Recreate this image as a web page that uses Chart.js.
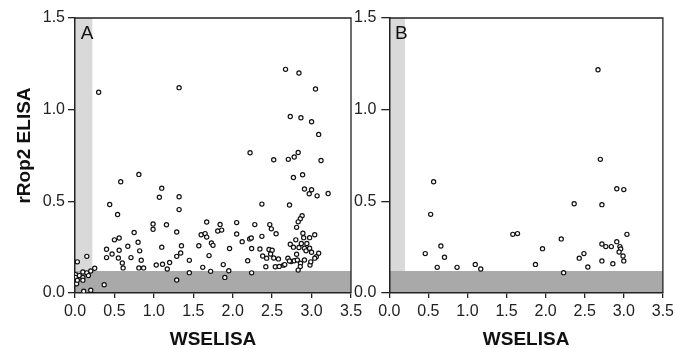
<!DOCTYPE html>
<html><head><meta charset="utf-8">
<script src="https://cdn.jsdelivr.net/npm/chart.js@4.4.0/dist/chart.umd.min.js"></script>
<style>
html,body{margin:0;padding:0;background:#fff;}
body{width:678px;height:348px;position:relative;overflow:hidden;}
.box{position:absolute;top:0;height:348px;}
#boxA{left:0;width:372px;}
#boxB{left:340px;width:338px;}
canvas{display:block;}
</style></head><body>
<div class="box" id="boxA"><canvas id="chartA" width="372" height="348"></canvas></div>
<div class="box" id="boxB"><canvas id="chartB" width="338" height="348"></canvas></div>
<script>
// ---- data ----
const panelAx = [
  0.01,0.01,0.02,0.03,0.055,0.10,0.10,0.10,0.15,0.17,0.20,0.25,0.03,0.15,0.11,0.20,0.37,0.30,
  0.44,0.54,0.58,0.81,1.07,1.10,0.99,1.16,0.99,0.75,0.50,0.56,0.80,0.67,0.40,0.56,0.82,1.10,0.47,0.40,0.55,0.71,0.60,0.84,0.61,0.81,0.87,1.03,1.11,1.17,1.20,
  1.32,1.32,1.32,1.29,1.35,1.29,1.34,1.29,1.45,1.45,1.57,1.60,1.65,1.67,1.67,1.62,1.70,1.72,1.73,1.75,1.81,1.84,1.86,1.88,1.90,1.95,1.96,2.05,2.05,2.12,2.19,2.215,2.235,2.24,2.24,2.28,2.22,
  2.345,2.37,2.37,2.38,2.42,2.43,2.47,2.49,2.46,2.50,2.48,2.52,2.55,2.54,2.58,2.59,2.645,2.52,2.67,2.84,3.05,2.73,2.865,3.00,3.09,2.705,2.78,2.83,3.12,2.77,2.886,2.91,3.00,2.97,3.07,3.21,2.72,
  2.88,2.857,2.83,2.81,2.89,2.90,3.04,2.975,2.80,2.73,2.77,2.87,2.84,2.91,2.93,2.975,3.00,3.09,3.06,3.04,2.70,2.74,2.78,2.82,2.86,2.91,2.98,2.66,2.857,2.83,2.72,2.81,2.99,2.94
];
const panelAy = [
  0.10,0.085,0.05,0.07,0.095,0.115,0.085,0.07,0.11,0.095,0.12,0.135,0.17,0.20,0.01,0.015,0.045,1.095,
  0.483,0.428,0.607,0.647,0.522,0.572,0.377,0.372,0.348,0.33,0.29,0.30,0.277,0.255,0.239,0.233,0.23,0.25,0.213,0.193,0.191,0.193,0.164,0.179,0.137,0.137,0.137,0.153,0.157,0.131,0.166,
  1.12,0.525,0.455,0.333,0.258,0.20,0.218,0.071,0.178,0.111,0.258,0.318,0.324,0.305,0.387,0.14,0.204,0.118,0.273,0.26,0.338,0.374,0.343,0.155,0.085,0.121,0.243,0.384,0.322,0.28,0.176,0.295,0.30,0.11,0.243,0.373,0.765,
  0.24,0.309,0.485,0.202,0.143,0.19,0.373,0.35,0.237,0.233,0.213,0.191,0.323,0.143,0.186,0.145,0.152,0.727,1.22,1.20,1.113,0.963,0.956,0.934,0.865,0.729,0.742,0.766,0.723,0.63,0.645,0.567,0.563,0.541,0.53,0.543,0.48,
  0.421,0.405,0.388,0.358,0.326,0.302,0.318,0.302,0.29,0.266,0.25,0.27,0.248,0.244,0.23,0.244,0.222,0.217,0.198,0.19,0.19,0.172,0.176,0.18,0.162,0.18,0.153,0.155,0.144,0.125,0.175,0.211,0.17,0.27
];
const panelBx = [2.67,2.70,0.567,0.529,2.365,2.72,2.91,3.00,1.58,1.64,3.04,2.20,0.66,0.46,0.706,1.96,2.72,2.77,2.84,2.91,2.95,2.96,2.94,2.99,3.00,2.43,2.49,2.72,2.86,2.54,1.87,1.10,1.17,0.867,0.613,2.23];
const panelBy = [1.218,0.729,0.607,0.429,0.487,0.482,0.569,0.564,0.32,0.324,0.32,0.295,0.256,0.215,0.195,0.242,0.267,0.253,0.253,0.28,0.253,0.24,0.224,0.202,0.175,0.19,0.215,0.175,0.16,0.142,0.156,0.156,0.131,0.14,0.14,0.111];
const xTicks = [0,0.5,1.0,1.5,2.0,2.5,3.0,3.5];
const yTicks = [0,0.5,1.0,1.5];
const panelLabels = ['A','B'];
const xTitle = 'WSELISA';
const yTitle = 'rRop2 ELISA';
const cutoffX = [0.22, 0.20];
const cutoffY = 0.12;

// ---- styling ----
const FAMILY = '"Liberation Sans", Arial, Helvetica, sans-serif';
const AXIS = '#222';
const LIGHT = '#d9d9d9';
const DARK = '#a9a9a9';

const bandsPlugin = {
  id:'bands',
  beforeDraw(chart, args, opts){
    const {ctx, chartArea:a, scales:{x,y}} = chart;
    const xr = x.getPixelForValue(opts.cutX);
    const yt = y.getPixelForValue(cutoffY);
    ctx.save();
    ctx.fillStyle = LIGHT;
    ctx.fillRect(a.left, a.top, xr - a.left, a.bottom - a.top);
    ctx.fillStyle = DARK;
    ctx.fillRect(a.left, yt, a.right - a.left, a.bottom - yt);
    ctx.restore();
  }
};
const framePlugin = {
  id:'frame',
  afterDraw(chart){
    const {ctx, chartArea:a} = chart;
    ctx.save();
    ctx.strokeStyle = AXIS; ctx.lineWidth = 1.3;
    ctx.beginPath();
    ctx.moveTo(a.left, a.top); ctx.lineTo(a.right, a.top); ctx.lineTo(a.right, a.bottom);
    ctx.stroke();
    ctx.restore();
  }
};
const textPlugin = {
  id:'texts',
  afterDraw(chart, args, opts){
    const {ctx, chartArea:a} = chart;
    ctx.save();
    ctx.fillStyle = '#111';
    ctx.font = '19px ' + FAMILY;
    ctx.textAlign = 'center'; ctx.textBaseline = 'middle';
    ctx.fillText(opts.label, a.left + 12, a.top + 16);
    if (opts.yTitle) {
      ctx.translate(24.5, 145.5);
      ctx.rotate(-Math.PI/2);
      ctx.font = 'bold 19px ' + FAMILY;
      ctx.fillText(opts.yTitle, 0, 0);
    }
    ctx.restore();
  }
};

function makeChart(id, xs, ys, cfg){
  const pts = xs.map((x,i)=>({x:x, y:ys[i]}));
  return new Chart(document.getElementById(id), {
    type:'scatter',
    data:{datasets:[{data:pts, pointRadius:2.1, pointHoverRadius:2.1, pointBorderWidth:1.2,
      borderColor:'#111', backgroundColor:'#fff', pointStyle:'circle'}]},
    options:{
      responsive:false, animation:false, events:[],
      layout:{padding:{left:0, top:18, right:cfg.padRight, bottom:0}},
      plugins:{legend:{display:false}, tooltip:{enabled:false},
        bands:{cutX:cfg.cutX}, texts:{label:cfg.label, yTitle:cfg.yTitle}},
      scales:{
        x:{type:'linear', min:0, max:3.5,
          afterBuildTicks:s=>{s.ticks = xTicks.map(v=>({value:v}));},
          afterFit:s=>{s.height = 55;},
          grid:{drawOnChartArea:false, drawTicks:true, tickLength:5, color:AXIS, lineWidth:1.3},
          border:{display:true, color:AXIS, width:1.5},
          ticks:{padding:4, color:'#222', font:{size:16, family:FAMILY}, maxRotation:0, autoSkip:false,
            callback:v=>Number(v).toFixed(1)},
          title:{display:true, text:xTitle, color:'#111', font:{size:19, weight:'bold', family:FAMILY},
            padding:{top:0, bottom:-3}}
        },
        y:{type:'linear', min:0, max:1.5,
          afterBuildTicks:s=>{s.ticks = yTicks.map(v=>({value:v}));},
          afterFit:s=>{s.width = cfg.yWidth;},
          grid:{drawOnChartArea:false, drawTicks:true, tickLength:cfg.yTick, color:AXIS, lineWidth:1.3},
          border:{display:true, color:AXIS, width:1.5},
          ticks:{padding:cfg.yPad, color:'#222', font:{size:16, family:FAMILY},
            callback:v=>Number(v).toFixed(1)},
          title:{display:false}
        }
      }
    },
    plugins:[bandsPlugin, framePlugin, textPlugin]
  });
}

makeChart('chartA', panelAx, panelAy, {padRight:21, cutX:cutoffX[0], label:panelLabels[0], yTitle:yTitle, yWidth:75, yTick:7, yPad:3});
makeChart('chartB', panelBx, panelBy, {padRight:13, cutX:cutoffX[1], label:panelLabels[1], yTitle:null, yWidth:49.3, yTick:8, yPad:5});
</script>
</body></html>
